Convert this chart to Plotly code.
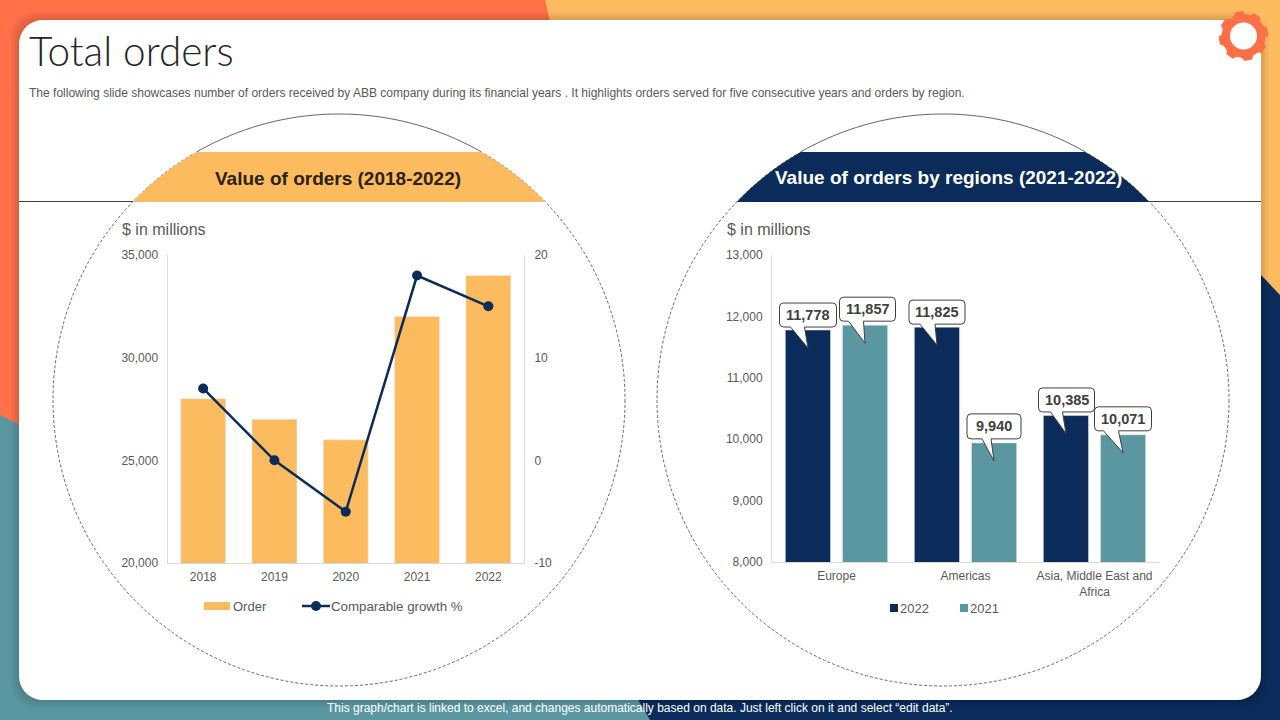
import numpy as np
import plotly.graph_objects as go

# chart data
years = ["2018", "2019", "2020", "2021", "2022"]
orders = [28000, 27000, 26000, 32000, 34000]
growth = [7, 0, -5, 18, 15]
growth_ticks = [-10, 0, 10, 20]

regions = ["Europe", "Americas", "Asia, Middle East and<br>Africa"]
orders_2022 = [11778, 11825, 10385]
orders_2021 = [11857, 9940, 10071]

# colours
ORANGE = "#FF7049"
YELLOW = "#FDBB5F"
TEAL = "#5B97A0"
NAVY = "#0B2C5B"
GREY = "#595959"
AXIS = "#D9D9D9"
FONT = "Liberation Sans"

W, H = 1280, 720


# slide pixels to paper fractions
def fx(x):
    return x / W


def fy(y):
    return 1 - y / H


def poly(points, fill, line=None, width=0, layer="below"):
    path = "M" + "L".join(f"{fx(x):.5f},{fy(y):.5f}" for x, y in points) + "Z"
    return dict(type="path", xref="paper", yref="paper", path=path, fillcolor=fill,
                line=dict(color=line or fill, width=width), layer=layer)


def rounded(x0, y0, x1, y1, r, fill):
    pts = []
    for cx, cy, a0 in [(x1 - r, y0 + r, -90), (x1 - r, y1 - r, 0), (x0 + r, y1 - r, 90), (x0 + r, y0 + r, 180)]:
        for a in np.radians(np.linspace(a0, a0 + 90, 10)):
            pts.append((cx + r * np.cos(a), cy + r * np.sin(a)))
    return poly(pts, fill)


def text(x, y, s, size=12, color=GREY, anchor="left", **kw):
    return dict(xref="paper", yref="paper", x=fx(x), y=fy(y), text=s, showarrow=False, borderpad=0, borderwidth=0,
                xanchor=anchor, yanchor="middle", font=dict(family=kw.pop("family", FONT), size=size, color=color, **kw))


shapes = []
notes = []

# slide background
shapes.append(dict(type="rect", xref="paper", yref="paper", x0=0, x1=1, y0=0, y1=1, fillcolor=YELLOW, line_width=0, layer="below"))
shapes.append(poly([(0, 0), (545, 0), (552, 30), (552, 440), (0, 440)], ORANGE))
shapes.append(poly([(0, 415), (30, 430), (30, 720), (0, 720)], TEAL))
shapes.append(poly([(0, 600), (578, 600), (650, 720), (0, 720)], TEAL))
shapes.append(poly([(578, 600), (1280, 600), (1280, 720), (650, 720)], NAVY))
shapes.append(poly([(1240, 253), (1280, 295), (1280, 720), (1240, 720)], NAVY))

# panel shadow and panel
for grow in [8, 6, 4, 2]:
    shapes.append(rounded(19 - grow, 20 - grow, 1261 + grow, 700 + grow, 24, "rgba(0,0,0,0.03)"))
shapes.append(rounded(19, 20, 1261, 700, 24, "white"))

# gear
gear = []
for i in range(8):
    c = i * 45 - 11
    for a, r in [(c - 15, 22), (c - 9, 25), (c + 9, 25), (c + 15, 22)]:
        gear.append((1243.5 + r * np.cos(np.radians(a)), 36 + r * np.sin(np.radians(a))))
shapes.append(poly(gear, ORANGE))
shapes.append(dict(type="circle", xref="paper", yref="paper", x0=fx(1230), x1=fx(1257), y0=fy(49.5), y1=fy(22.5), fillcolor="white", line_width=0, layer="below"))

# circles with header bands
R = 286
CY = 400
for cx, fill in [(339, YELLOW), (943, NAVY)]:
    shapes.append(dict(type="circle", xref="paper", yref="paper", x0=fx(cx - R), x1=fx(cx + R), y0=fy(CY + R), y1=fy(CY - R),
                       fillcolor="rgba(0,0,0,0)", line=dict(color="#404040", width=0.8, dash="3px,2px"), layer="below"))
    # white out the dashes above the band, then solid arc
    a_top = np.arcsin(248 / R)
    angs = np.linspace(np.pi - a_top, a_top, 40)
    arc = [(cx + R * np.cos(a), CY - R * np.sin(a)) for a in angs]
    shapes.append(poly(arc, "white", "white", 2))
    path = "M" + "L".join(f"{fx(x):.5f},{fy(y):.5f}" for x, y in arc)
    shapes.append(dict(type="path", xref="paper", yref="paper", path=path, line=dict(color="#404040", width=0.8), layer="below"))
    a_low = np.arcsin(198 / R)
    angs = np.linspace(np.pi - a_low, np.pi - a_top, 20).tolist() + np.linspace(a_top, a_low, 20).tolist()
    shapes.append(poly([(cx + R * np.cos(a), CY - R * np.sin(a)) for a in angs], fill))

for x0, x1 in [(19, 133), (1149, 1261)]:
    shapes.append(dict(type="line", xref="paper", yref="paper", x0=fx(x0), x1=fx(x1), y0=fy(201.5), y1=fy(201.5),
                       line=dict(color="#404040", width=1), layer="below"))

# slide texts
notes.append(text(29, 51, "Total orders", size=40.5, color="#262626", family="Lato", weight=300))
notes.append(text(29, 93, "The following slide showcases number of orders received by ABB company during its financial years . It highlights orders served for five consecutive years and orders by region.", size=12.03))
notes.append(text(338, 178, "<b>Value of orders (2018-2022)</b>", size=19, color="#2B2210", anchor="center"))
notes.append(text(948, 177, "<b>Value of orders by regions (2021-2022)</b>", size=19, color="white", anchor="center"))
notes.append(text(122, 229, "$ in millions", size=16))
notes.append(text(727, 229, "$ in millions", size=16))
notes.append(text(640, 708, "This graph/chart is linked to excel, and changes automatically based on data. Just left click on it and select \u201cedit data\u201d.", size=12, color="white", anchor="center"))

# hand-placed legends
shapes.append(dict(type="rect", xref="paper", yref="paper", x0=fx(204), x1=fx(230), y0=fy(610), y1=fy(602), fillcolor=YELLOW, line_width=0, layer="below"))
notes.append(text(233, 606, "Order", size=13))
shapes.append(dict(type="line", xref="paper", yref="paper", x0=fx(302), x1=fx(330), y0=fy(606), y1=fy(606), line=dict(color=NAVY, width=2.5), layer="below"))
shapes.append(dict(type="circle", xref="paper", yref="paper", x0=fx(311), x1=fx(321), y0=fy(611), y1=fy(601), fillcolor=NAVY, line_width=0, layer="below"))
notes.append(text(331, 606, "Comparable growth %", size=13.3))
for x, label, fill in [(890, "2022", NAVY), (960, "2021", TEAL)]:
    shapes.append(dict(type="rect", xref="paper", yref="paper", x0=fx(x), x1=fx(x + 8), y0=fy(612), y1=fy(604), fillcolor=fill, line_width=0, layer="below"))
    notes.append(text(x + 10, 608, label, size=13))

fig = go.Figure()
fig.add_bar(x=years, y=orders, name="Order", width=0.63, marker_color=YELLOW, xaxis="x", yaxis="y")
fig.add_scatter(x=years, y=growth, name="Comparable growth %", mode="lines+markers", line=dict(color=NAVY, width=2.5),
                marker=dict(color=NAVY, size=10), xaxis="x", yaxis="y2")
fig.add_bar(x=regions, y=orders_2022, name="2022", marker_color=NAVY, xaxis="x2", yaxis="y3")
fig.add_bar(x=regions, y=orders_2021, name="2021", marker_color=TEAL, xaxis="x2", yaxis="y3")

# callouts: box left, right, top, bottom, wedge base left, right (px from bar centre and bar top)
GROUP = 28.5
boxes_2022 = [(-28.5, 28.5, 27, 3, -17.5, -3.5), (-28, 28, 27, 3, -17, -2), (-27.5, 28.5, 27.6, 3.6, -15.5, -3.5)]
boxes_2021 = [(-25.5, 30.5, 28, 4, -16.5, -1.5), (-27, 27, 29, 4, -12, -3), (-28.5, 28.5, 28, 4, -19.5, -4.5)]
TIP = -18


def callout(cat, value, shift, box):
    l, r, t, b, w0, w1 = box
    c = 4
    s = shift
    path = (f"M{s + l + c},{b}L{s + w0},{b}L{s},{TIP}L{s + w1},{b}L{s + r - c},{b}"
            f"Q{s + r},{b} {s + r},{b + c}L{s + r},{t - c}Q{s + r},{t} {s + r - c},{t}"
            f"L{s + l + c},{t}Q{s + l},{t} {s + l},{t - c}L{s + l},{b + c}Q{s + l},{b} {s + l + c},{b}Z")
    shapes.append(dict(type="path", xref="x2", yref="y3", xsizemode="pixel", ysizemode="pixel", xanchor=cat, yanchor=value,
                       path=path, fillcolor="white", line=dict(color="#404040", width=1), layer="above"))
    notes.append(dict(xref="x2", yref="y3", x=cat, y=value, text=f"<b>{value:,}</b>", showarrow=False,
                      xshift=s + (l + r) / 2, yshift=(t + b) / 2, xanchor="center", yanchor="middle",
                      font=dict(family=FONT, size=14.5, color="#404040")))


for i, cat in enumerate(regions):
    callout(cat, orders_2022[i], -GROUP, boxes_2022[i])
    callout(cat, orders_2021[i], GROUP, boxes_2021[i])

tick_font = dict(family=FONT, size=12, color=GREY)
fig.update_layout(
    width=W, height=H, margin=dict(l=0, r=0, t=0, b=0, autoexpand=False), autosize=False,
    paper_bgcolor="white", plot_bgcolor="rgba(0,0,0,0)", showlegend=False,
    barmode="group", bargap=0.114, bargroupgap=0.21,
    shapes=shapes, annotations=notes,
    xaxis=dict(domain=[fx(167.5), fx(524)], anchor="y", showline=True, linecolor=AXIS, ticks="", tickfont=tick_font,
               showgrid=False, type="category", ticklabelstandoff=3),
    yaxis=dict(domain=[fy(563), fy(255)], anchor="x", range=[20000, 35000], dtick=5000, tickformat=",", showline=True,
               linecolor=AXIS, showgrid=False, zeroline=False, ticks="", tickfont=tick_font, ticklabelstandoff=6),
    yaxis2=dict(domain=[fy(563), fy(255)], anchor="x", overlaying="y", side="right", range=[-10, 20],
                tickvals=growth_ticks, ticktext=[str(v) for v in growth_ticks], showline=True,
                linecolor=AXIS, showgrid=False, zeroline=False, ticks="", tickfont=tick_font, ticklabelstandoff=7),
    xaxis2=dict(domain=[fx(772), fx(1159)], anchor="y3", showline=True, linecolor=AXIS, ticks="", tickfont=tick_font,
                showgrid=False, type="category", ticklabelstandoff=3),
    yaxis3=dict(domain=[fy(562), fy(255)], anchor="x2", range=[8000, 13000], dtick=1000, tickformat=",", showline=True,
                linecolor=AXIS, showgrid=False, zeroline=False, ticks="", tickfont=tick_font, ticklabelstandoff=6),
)

fig.write_html("out.html", config={"displayModeBar": False}, post_script="document.body.style.margin='0';")
